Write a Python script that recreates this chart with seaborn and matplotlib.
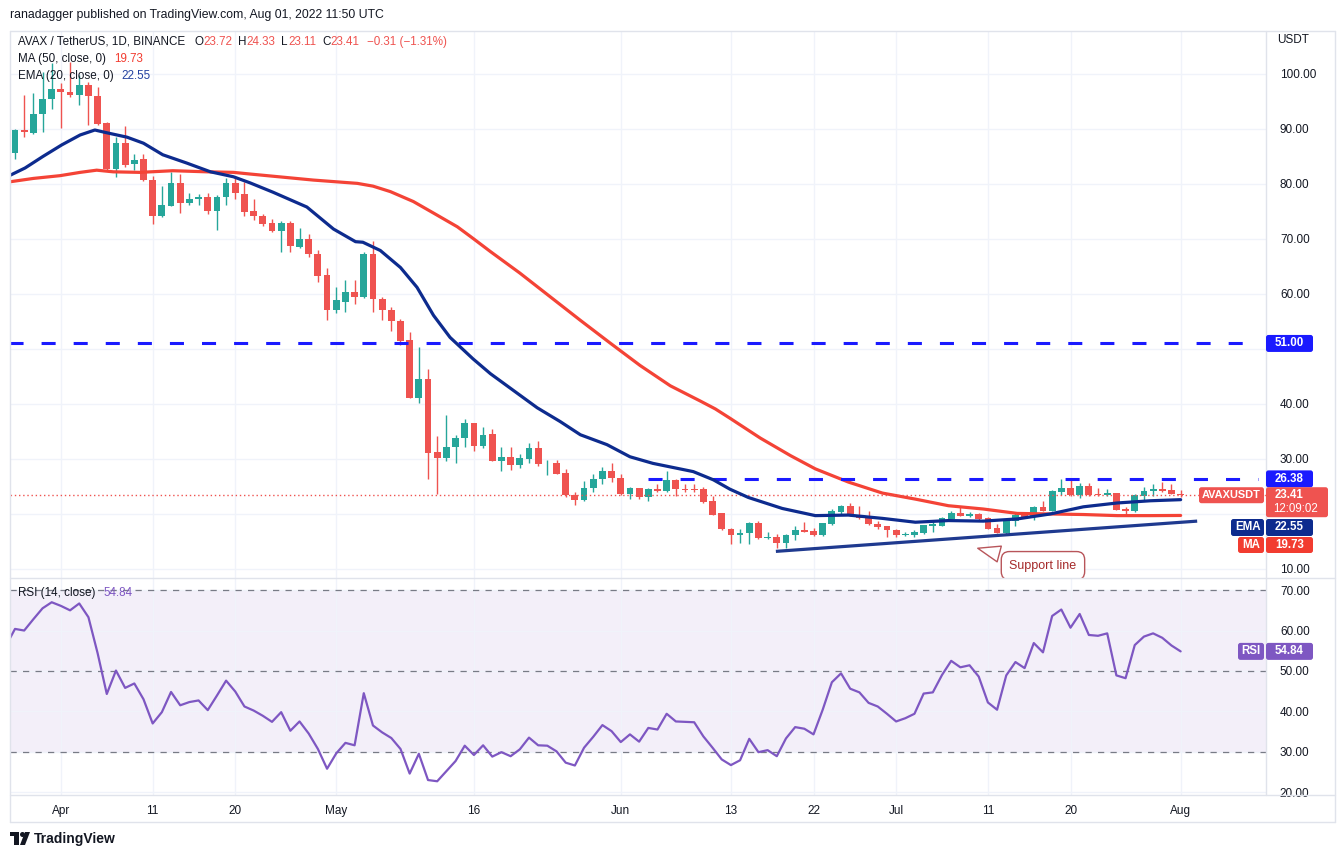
import numpy as np
import pandas as pd
import matplotlib
matplotlib.use("Agg")
import matplotlib.pyplot as plt
from matplotlib.patches import FancyBboxPatch, Rectangle, Circle, Polygon
from matplotlib.lines import Line2D
from matplotlib.transforms import IdentityTransform
import seaborn as sns

# ---------------- data ----------------
start_date = "2022-03-27"

opens = [85.7, 89.8, 89.3, 92.7, 95.4, 97.2, 96.7, 96.1, 98.0, 96.0,
         91.0, 82.7, 87.4, 83.6, 84.5, 80.8, 74.1, 76.0, 80.1, 76.6,
         77.2, 77.7, 75.1, 77.6, 80.1, 78.2, 75.1, 74.2, 72.9, 71.5,
         72.9, 68.6, 70.0, 67.3, 63.5, 57.0, 58.6, 60.3, 59.5, 67.3,
         59.1, 57.1, 55.0, 51.6, 41.1, 44.5, 31.2, 30.2, 32.1, 33.9,
         36.5, 32.4, 34.5, 29.6, 30.4, 28.9, 30.0, 32.0, 29.2, 29.2,
         27.4, 23.5, 22.5, 24.8, 26.3, 27.9, 26.6, 23.6, 24.8, 23.0,
         24.6, 24.1, 26.1, 24.6, 24.6, 24.6, 22.3, 20.1, 17.3, 16.1,
         16.5, 18.4, 15.6, 15.9, 14.7, 16.1, 17.1, 16.9, 16.1, 18.2,
         20.4, 21.5, 19.8, 19.2, 18.2, 17.8, 17.1, 16.1, 16.2, 16.5,
         17.9, 17.9, 19.1, 20.2, 19.7, 20.0, 19.3, 17.5, 16.6, 18.8,
         20.0, 19.4, 21.3, 20.6, 24.0, 24.7, 23.5, 25.0, 23.6, 23.5,
         23.8, 20.9, 20.6, 23.3, 24.1, 24.6, 24.4, 23.72]
highs = [90.0, 96.2, 96.5, 100.4, 102.0, 98.3, 102.2, 99.8, 98.5, 97.7,
         91.2, 88.5, 90.5, 85.4, 85.5, 81.5, 79.6, 82.2, 81.8, 78.4,
         78.2, 78.4, 78.0, 81.0, 81.5, 80.3, 77.3, 74.5, 73.6, 73.2,
         73.2, 71.9, 70.9, 68.0, 64.7, 61.3, 62.5, 62.5, 67.7, 69.7,
         59.5, 57.6, 55.5, 53.0, 50.3, 46.4, 34.1, 38.0, 34.4, 37.2,
         36.6, 35.8, 35.4, 32.1, 32.1, 30.9, 32.9, 33.3, 29.8, 29.8,
         28.1, 24.0, 26.0, 27.2, 28.6, 29.2, 27.2, 24.9, 24.8, 24.8,
         25.4, 27.9, 26.3, 25.5, 25.5, 24.9, 23.2, 20.2, 17.4, 17.3,
         18.6, 18.8, 16.7, 16.3, 16.4, 17.8, 18.6, 17.4, 18.4, 20.9,
         21.6, 22.0, 21.5, 20.5, 18.7, 17.9, 17.3, 16.8, 17.0, 18.0,
         18.8, 19.5, 20.6, 21.2, 20.4, 20.1, 19.4, 18.2, 19.0, 20.3,
         20.3, 21.5, 22.4, 24.4, 26.4, 26.4, 25.6, 25.6, 24.7, 24.6,
         23.9, 21.3, 23.6, 24.9, 25.5, 25.9, 25.4, 24.33]
lows = [84.5, 88.6, 89.1, 89.5, 93.6, 90.2, 95.8, 94.4, 90.7, 90.7,
        82.5, 81.3, 83.0, 82.6, 80.5, 72.7, 74.0, 75.9, 74.8, 76.2,
        76.1, 74.5, 71.6, 76.2, 77.3, 74.2, 73.5, 72.4, 71.2, 67.6,
        67.7, 68.4, 66.8, 62.2, 55.2, 56.5, 56.8, 58.2, 59.3, 56.7,
        55.2, 53.3, 50.8, 41.0, 40.1, 26.3, 23.6, 29.7, 29.3, 32.1,
        31.5, 32.0, 29.6, 27.8, 28.0, 28.4, 29.3, 28.7, 27.1, 27.2,
        23.0, 21.6, 22.3, 24.0, 25.4, 25.9, 23.5, 22.7, 22.7, 22.3,
        24.0, 24.0, 23.2, 24.0, 24.0, 22.0, 19.8, 17.0, 14.5, 14.8,
        14.5, 15.5, 15.4, 13.8, 13.8, 15.3, 16.7, 16.0, 16.0, 18.0,
        20.0, 19.6, 19.1, 18.0, 17.3, 15.9, 15.9, 16.0, 15.9, 16.4,
        16.8, 17.8, 19.0, 19.6, 19.5, 18.9, 17.2, 16.5, 16.4, 17.9,
        19.2, 18.9, 20.5, 20.5, 23.5, 23.2, 22.9, 23.2, 23.3, 23.3,
        20.7, 19.9, 20.3, 22.4, 23.3, 24.0, 23.6, 23.11]
closes = [89.8, 89.5, 92.7, 95.4, 97.2, 96.7, 96.1, 98.0, 95.9, 90.9,
          82.7, 87.4, 83.5, 84.4, 80.7, 74.1, 76.2, 80.1, 76.6, 77.2,
          77.7, 75.1, 77.7, 80.1, 78.3, 74.9, 74.1, 72.8, 71.5, 72.9,
          68.7, 70.0, 67.2, 63.3, 57.0, 58.9, 60.3, 59.5, 67.3, 59.0,
          57.0, 55.0, 51.5, 41.1, 44.5, 31.1, 30.2, 32.2, 33.9, 36.5,
          32.4, 34.4, 29.6, 30.4, 28.9, 30.1, 32.0, 29.1, 29.3, 27.3,
          23.4, 22.5, 24.8, 26.3, 27.9, 26.5, 23.6, 24.8, 23.0, 24.6,
          24.1, 26.1, 24.5, 24.4, 24.3, 22.1, 19.9, 17.2, 16.1, 16.5,
          18.4, 15.6, 15.9, 14.7, 16.2, 17.1, 16.8, 16.1, 18.4, 20.5,
          21.5, 19.7, 19.2, 18.1, 17.7, 17.0, 16.1, 16.4, 16.8, 18.0,
          18.1, 19.3, 20.2, 19.7, 20.0, 19.1, 17.3, 16.6, 18.9, 19.9,
          19.4, 21.3, 20.6, 24.1, 24.7, 23.5, 25.0, 23.5, 23.5, 23.8,
          20.8, 20.5, 23.5, 24.2, 24.6, 24.1, 23.7, 23.41]

rsi_before = 56.2
rsi_values = [60.4, 60.0, 62.8, 65.5, 67.0, 66.1, 65.0, 66.7, 63.3, 54.4,
              44.3, 50.1, 45.8, 46.9, 43.0, 37.0, 39.8, 44.8, 41.5, 42.3,
              42.7, 40.3, 43.9, 47.6, 44.9, 41.2, 40.2, 38.9, 37.4, 39.8,
              35.2, 37.5, 34.5, 30.7, 25.8, 29.6, 32.2, 31.6, 44.5, 36.5,
              34.8, 33.4, 30.7, 24.6, 29.5, 23.0, 22.7, 25.2, 27.7, 31.5,
              29.2, 31.6, 28.8, 29.9, 28.9, 30.6, 33.5, 31.6, 31.5, 30.1,
              27.3, 26.6, 31.0, 33.7, 36.6, 35.1, 32.4, 34.3, 32.5, 35.9,
              35.5, 39.4, 37.5, 37.4, 37.3, 33.8, 31.0, 28.1, 26.7, 27.9,
              33.2, 29.9, 30.4, 28.9, 33.3, 36.1, 35.7, 34.3, 40.4, 47.2,
              49.4, 45.6, 44.7, 42.1, 41.2, 39.4, 37.5, 38.3, 39.4, 44.4,
              44.7, 49.0, 52.5, 50.9, 51.4, 48.6, 42.2, 40.4, 48.9, 52.2,
              50.7, 56.9, 54.6, 63.6, 65.2, 60.7, 64.1, 58.9, 58.7, 59.3,
              48.9, 48.2, 56.4, 58.5, 59.3, 58.2, 56.3, 54.84]

ema_days = [-0.5, 1.1, 3.05, 5.1, 7.1, 8.7, 10.0, 12.2, 14.0, 16.1, 18.7, 21.3,
            23.8, 25.6, 28.1, 31.8, 34.7, 37.1, 37.9, 39.8, 42.0, 43.8, 45.6,
            47.4, 49.9, 51.8, 56.9, 59.4, 61.6, 64.5, 67.0, 69.5, 73.9, 76.1,
            77.9, 79.9, 83.6, 87.2, 90.8, 94.5, 98.1, 101.7, 105.5, 109.2,
            112.8, 116.4, 120.1, 123.7, 127.0]
ema_values = [81.6, 82.9, 85.0, 87.1, 88.9, 89.8, 89.3, 88.5, 87.4, 85.3, 83.8,
              82.2, 81.3, 80.2, 78.5, 75.8, 71.8, 69.5, 69.4, 67.9, 64.8, 61.2,
              56.1, 52.1, 48.2, 45.5, 39.3, 36.8, 34.4, 32.6, 30.4, 29.2, 27.7,
              26.2, 24.5, 23.0, 21.0, 19.7, 19.8, 19.2, 18.5, 18.8, 18.7, 19.1,
              20.0, 21.3, 22.0, 22.4, 22.6]
ma_days = [-0.5, 2.0, 4.9, 7.1, 8.9, 10.7, 13.6, 17.2, 20.9, 23.8, 25.6, 32.5,
           37.3, 39.0, 40.9, 43.4, 45.6, 48.2, 49.9, 51.8, 55.0, 58.3, 61.6,
           64.9, 68.1, 71.4, 74.7, 76.3, 77.9, 81.2, 84.5, 87.2, 90.8, 94.5,
           98.1, 101.7, 105.5, 109.2, 112.8, 116.4, 120.1, 123.7, 127.0]
ma_values = [80.4, 81.0, 81.5, 82.1, 82.5, 82.2, 82.1, 82.4, 82.2, 82.1, 81.8,
             80.7, 80.1, 79.6, 78.6, 76.8, 74.7, 72.2, 70.1, 67.7, 63.8, 59.5,
             55.2, 51.0, 47.0, 43.3, 40.5, 39.1, 37.4, 33.8, 30.6, 28.2, 25.8,
             23.8, 22.7, 21.5, 20.9, 20.1, 20.0, 19.9, 19.7, 19.7, 19.73]

support_days = [82.9, 128.8]
support_prices = [13.2, 18.7]
level_values = [51.00, 26.38]
level_start_days = [-0.6, 69.0]
level_end_day = 135.4
last_close = 23.41
ema_last = 22.55
ma_last = 19.73
rsi_last = 54.84
callout_point = (104.6, 13.9)
callout_text_pos = (112.0, 10.6)

tick_dates = ["2022-04-01", "2022-04-11", "2022-04-20", "2022-05-01", "2022-05-16",
              "2022-06-01", "2022-06-13", "2022-06-22", "2022-07-01", "2022-07-11",
              "2022-07-20", "2022-08-01"]
tick_labels = ["Apr", "11", "20", "May", "16", "Jun", "13", "22", "Jul", "11", "20", "Aug"]
price_ticks = [10, 20, 30, 40, 50, 60, 70, 80, 90, 100]
hidden_price_labels = [20, 50]
rsi_ticks = [20, 30, 40, 50, 60, 70]

header_pieces = [("AVAX / TetherUS, 1D, BINANCE", "label", 9),
                 ("O", "label", 0), ("23.72", "value", 6),
                 ("H", "label", 0), ("24.33", "value", 6),
                 ("L", "label", 0), ("23.11", "value", 6),
                 ("C", "label", 0), ("23.41", "value", 8),
                 ("\u22120.31 (\u22121.31%)", "value", 0)]

# ---------------- style ----------------
GREEN = "#26a69a"
RED = "#ef5350"
EMA_C = "#0d2b8e"
MA_C = "#f44336"
LEVEL_C = "#1a1aff"
RSI_C = "#7e57c2"
TXT = "#131722"
GRID = "#f0f3fa"
BORDER = "#e0e3eb"

W, H = 1344, 857
sns.set_theme(style="white")
plt.rcParams["font.family"] = ["Liberation Sans", "DejaVu Sans"]

fig = plt.figure(figsize=(W / 100, H / 100), dpi=100)
fig.patch.set_facecolor("white")
ax = fig.add_axes([10 / W, 1 - 578 / H, 1256 / W, 547 / H])
ax2 = fig.add_axes([10 / W, 1 - 795 / H, 1256 / W, 217 / H], sharex=ax)

start = pd.Timestamp(start_date)


def day(d):
    return start + pd.to_timedelta(np.asarray(d, dtype=float), unit="D")


o = np.array(opens); h = np.array(highs); l = np.array(lows); c = np.array(closes)
dates = day(np.arange(len(opens)))
cols = np.where(c >= o, GREEN, RED)

# candles
ax.vlines(dates, l, h, colors=cols, lw=1, zorder=3)
ax.bar(dates, np.maximum(np.abs(c - o), 0.15), bottom=np.minimum(o, c), width=0.74,
       color=cols, lw=0, zorder=4)

# moving averages
ema_df = pd.DataFrame({"date": day(ema_days), "value": ema_values})
ma_df = pd.DataFrame({"date": day(ma_days), "value": ma_values})
sns.lineplot(data=ma_df, x="date", y="value", ax=ax, color=MA_C, lw=2.3, zorder=5)
sns.lineplot(data=ema_df, x="date", y="value", ax=ax, color=EMA_C, lw=2.3, zorder=6)

# horizontal levels
for v, s in zip(level_values, level_start_days):
    ax.plot(day([s, level_end_day]), [v, v], color=LEVEL_C, lw=2.2,
            dashes=(4.6, 5.9), zorder=5, solid_capstyle="butt")
ax.plot(day([-1, 140]), [last_close, last_close], color=RED, lw=1,
        linestyle=(0, (1, 2)), zorder=5)

# support line
ax.plot(day(support_days), support_prices, color="#1f3a8f", lw=2.3, zorder=6,
        solid_capstyle="butt")

# callout
ax.annotate("Support line", xy=(day(callout_point[0]), callout_point[1]),
            xytext=(day(callout_text_pos[0]), callout_text_pos[1]),
            ha="center", va="center", fontsize=9, color="#a52a2a",
            bbox=dict(boxstyle="round,pad=0.65", fc="white", ec="#b8555a", lw=1),
            arrowprops=dict(arrowstyle="wedge,tail_width=1.3,shrink_factor=0.5",
                            fc="white", ec="#b8555a", lw=1),
            zorder=8, annotation_clip=False)

xmin = day(-0.545)
xmax = day(136.3)
ax.set_xlim(xmin, xmax)
ax.set_ylim(8.36, 107.8)
ax.set_yticks(price_ticks)
ax.set_yticklabels(["" if v in hidden_price_labels else f"{v:.2f}" for v in price_ticks])
ax.yaxis.tick_right()
ax.tick_params(axis="y", length=0, pad=10, labelsize=8.5, labelcolor=TXT)
ax.tick_params(axis="x", length=0, labelbottom=False)
ax.grid(True, color=GRID, lw=1)
ax.set_axisbelow(True)
ax.set_xlabel(""); ax.set_ylabel("")
for sp in ax.spines.values():
    sp.set_visible(False)

# ---------------- RSI pane ----------------
rsi_df = pd.DataFrame({"date": day(np.arange(-1, len(rsi_values))),
                       "rsi": [rsi_before] + rsi_values})
ax2.axhspan(30, 70, color=RSI_C, alpha=0.09, lw=0, zorder=0)
sns.lineplot(data=rsi_df, x="date", y="rsi", ax=ax2, color=RSI_C, lw=1.6, zorder=5)
for v in (70, 50, 30):
    ax2.axhline(v, color="#787b86", lw=0.9, dashes=(5, 5), zorder=3)
ax2.set_ylim(19.3, 73.0)
ax2.set_yticks(rsi_ticks)
ax2.set_yticklabels([f"{v:.2f}" for v in rsi_ticks])
ax2.yaxis.tick_right()
ax2.set_xticks(pd.to_datetime(tick_dates))
ax2.set_xticklabels(tick_labels)
ax2.set_xlim(xmin, xmax)
ax2.tick_params(axis="y", length=0, pad=10, labelsize=8.5, labelcolor=TXT)
ax2.tick_params(axis="x", length=0, pad=7, labelsize=8.5, labelcolor=TXT)
ax2.grid(True, color=GRID, lw=1)
ax2.set_axisbelow(True)
ax2.set_xlabel(""); ax2.set_ylabel("")
for sp in ax2.spines.values():
    sp.set_visible(False)

# ---------------- frame / separators ----------------
def hline_px(x0, x1, y, color=BORDER, lw=1):
    fig.add_artist(Line2D([x0 / W, x1 / W], [1 - y / H, 1 - y / H], color=color, lw=lw))


def vline_px(x, y0, y1, color=BORDER, lw=1):
    fig.add_artist(Line2D([x / W, x / W], [1 - y0 / H, 1 - y1 / H], color=color, lw=lw))


hline_px(10, 1335, 31)
hline_px(10, 1335, 578)
hline_px(10, 1335, 795)
hline_px(10, 1335, 822)
vline_px(10, 31, 822)
vline_px(1335, 31, 822)
vline_px(1266, 31, 795)

# ---------------- texts ----------------
def ftext(x, y, s, color=TXT, size=8.7, weight="normal", ha="left", z=22):
    return fig.text(x / W, 1 - y / H, s, color=color, fontsize=size, fontweight=weight,
                    ha=ha, va="center", zorder=z)


renderer = fig.canvas.get_renderer()

ftext(10, 15, "ranadagger published on TradingView.com, Aug 01, 2022 11:50 UTC", size=8.8)

# OHLC header laid out piece by piece
xcur = 18
for s, kind, gap in header_pieces:
    t = ftext(xcur, 42, s, color=TXT if kind == "label" else RED, size=8.4)
    bb = t.get_window_extent(renderer)
    xcur = bb.x1 + gap

t = ftext(18, 59, "MA (50, close, 0)", size=8.4)
ftext(t.get_window_extent(renderer).x1 + 8, 59, f"{ma_last:.2f}", color="#f23c30", size=8.4)
t = ftext(18, 76, "EMA (20, close, 0)", size=8.4)
ftext(t.get_window_extent(renderer).x1 + 8, 76, f"{ema_last:.2f}", color="#2341a0", size=8.4)
t = ftext(18, 593, "RSI (14, close)", size=8.4)
ftext(t.get_window_extent(renderer).x1 + 8, 593, f"{rsi_last:.2f}", color=RSI_C, size=8.4)
ftext(1277, 40, "USDT", size=8.5)


def pbox(x0, y0, x1, y1, fc, r=2.5):
    p = FancyBboxPatch((x0, H - y1), x1 - x0, y1 - y0,
                       boxstyle=f"round,pad=0,rounding_size={r}", fc=fc, ec="none",
                       transform=IdentityTransform(), zorder=20)
    fig.add_artist(p)


def ypx(axis, v):
    return H - axis.transData.transform((0, v))[1]


TAG = 8.3
# level tags
for v in level_values:
    yc = ypx(ax, v)
    pbox(1266, yc - 8.5, 1313, yc + 8.5, LEVEL_C)
    ftext(1289.5, yc, f"{v:.2f}", color="white", weight="bold", ha="center", size=TAG)

# last price tag
yc = ypx(ax, last_close)
pbox(1266, yc - 8, 1328, yc + 22, RED)
ftext(1289.5, yc, f"{last_close:.2f}", color="white", weight="bold", ha="center", size=TAG)
ftext(1296, yc + 14, "12:09:02", color="white", ha="center", size=TAG)
pbox(1199, yc - 8, 1264, yc + 8, RED)
ftext(1231.5, yc, "AVAXUSDT", color="white", weight="bold", ha="center", size=7.9)

# EMA / MA tags (stacked below)
pbox(1231, 519, 1264, 536, EMA_C)
ftext(1247.5, 527.5, "EMA", color="white", weight="bold", ha="center", size=TAG)
pbox(1266, 519, 1313, 536, EMA_C)
ftext(1289.5, 527.5, f"{ema_last:.2f}", color="white", weight="bold", ha="center", size=TAG)
pbox(1238, 537, 1264, 553, "#f23c30")
ftext(1251, 545, "MA", color="white", weight="bold", ha="center", size=TAG)
pbox(1266, 537, 1313, 553, "#f23c30")
ftext(1289.5, 545, f"{ma_last:.2f}", color="white", weight="bold", ha="center", size=TAG)

# RSI tag
yc = ypx(ax2, rsi_last)
pbox(1238, yc - 8.5, 1264, yc + 8.5, RSI_C)
ftext(1251, yc, "RSI", color="white", weight="bold", ha="center", size=TAG)
pbox(1266, yc - 8.5, 1313, yc + 8.5, RSI_C)
ftext(1289.5, yc, f"{rsi_last:.2f}", color="white", weight="bold", ha="center", size=TAG)

# TradingView logo
logo_c = "#131722"
fig.add_artist(Rectangle((10, H - 836), 9, 4, fc=logo_c, ec="none", transform=IdentityTransform()))
fig.add_artist(Rectangle((14, H - 845), 5, 13, fc=logo_c, ec="none", transform=IdentityTransform()))
fig.add_artist(Circle((22.5, H - 834.5), 2.5, fc=logo_c, ec="none", transform=IdentityTransform()))
fig.add_artist(Polygon([(25, H - 832), (30, H - 832), (25, H - 845), (20, H - 845)],
                       closed=True, fc=logo_c, ec="none", transform=IdentityTransform()))
ftext(34, 839, "TradingView", size=10, weight="bold", color=logo_c)

fig.savefig("out.png", dpi=100)
